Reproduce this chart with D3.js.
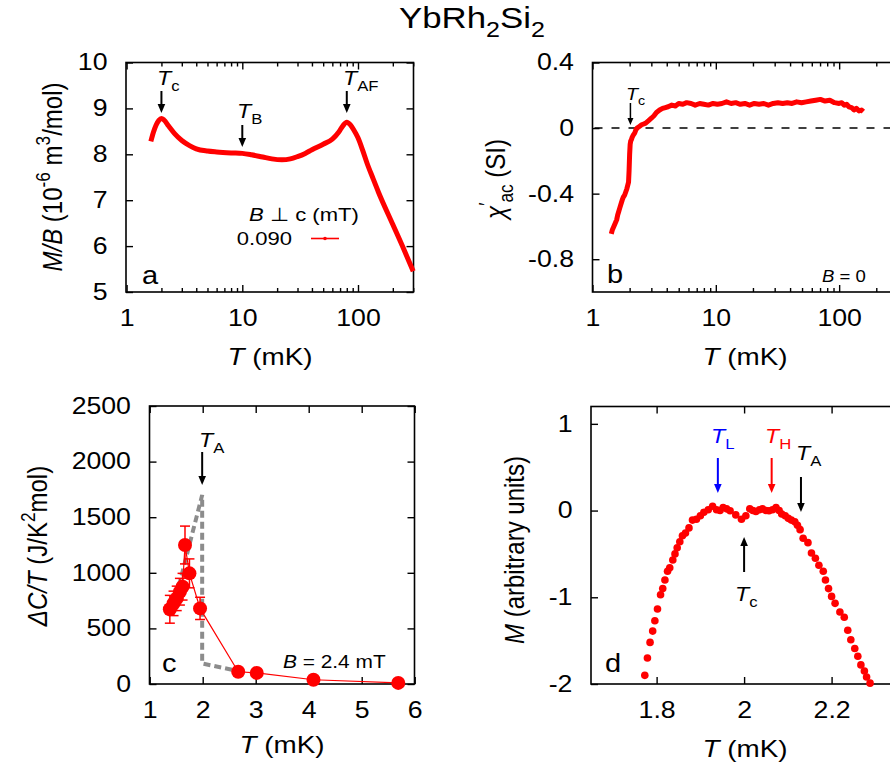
<!DOCTYPE html>
<html>
<head>
<meta charset="utf-8">
<style>
  body { margin: 0; background: #fff; }
  svg { font-family: 'Liberation Sans', Arial, sans-serif; display: block; }
</style>
</head>
<body>
<svg width="890" height="769"></svg>
<script src="https://d3js.org/d3.v7.min.js"></script>
<script>
// ---- panel a : M/B vs T (log), B perp c = 0.090 mT
const aCurve = [[1.62,8.28],[1.7,8.47],[1.8,8.64],[1.9,8.74],[2.0,8.78],[2.1,8.75],[2.3,8.62],[2.6,8.45],
  [3.0,8.3],[3.5,8.19],[4.0,8.12],[5,8.07],[6,8.05],[8,8.03],[10,8.02],[12,7.99],[15,7.94],[18,7.9],
  [22,7.88],[26,7.9],[30,7.95],[35,8.02],[40,8.1],[50,8.22],[60,8.33],[68,8.48],[74,8.62],[80,8.7],
  [86,8.64],[92,8.53],[100,8.36],[110,8.08],[120,7.8],[135,7.47],[150,7.18],[200,6.47],[250,5.92],[300,5.45]];
const aLegendField = "0.090";
// ---- panel b : chi'_ac vs T (log), B = 0
const bCurve = [[1.42,-0.645],[1.45,-0.62],[1.48,-0.605],[1.51,-0.59],[1.54,-0.575],[1.57,-0.56],[1.6,-0.53],
  [1.63,-0.51],[1.66,-0.49],[1.7,-0.465],[1.74,-0.44],[1.78,-0.42],[1.82,-0.41],[1.86,-0.39],[1.9,-0.37],
  [1.93,-0.35],[1.96,-0.33],[1.98,-0.26],[2.0,-0.16],[2.02,-0.1],[2.04,-0.08],[2.07,-0.07],[2.1,-0.055],
  [2.15,-0.04],[2.2,-0.03],[2.25,-0.01],[2.3,0.0],[2.4,0.01],[2.5,0.02],[2.6,0.025],[2.7,0.03],[2.85,0.045],
  [3.0,0.06],[3.15,0.075],[3.3,0.095],[3.5,0.11],[3.7,0.12],[3.9,0.125],[4.1,0.13],[4.4,0.14],[4.7,0.135],
  [5.0,0.15],[5.4,0.145],[5.8,0.155],[6.3,0.15],[6.8,0.14],[7.4,0.15],[8.0,0.145],[8.7,0.14],[9.5,0.15],
  [10.3,0.145],[11.2,0.15],[12.2,0.16],[13.3,0.15],[14.5,0.155],[15.8,0.145],[17.2,0.15],[18.8,0.14],
  [20.5,0.15],[22.4,0.145],[24.5,0.15],[26.7,0.14],[29.2,0.15],[31.9,0.155],[34.8,0.15],[38,0.155],
  [41.5,0.15],[45.3,0.16],[49.5,0.155],[54,0.16],[59,0.165],[64.5,0.17],[70.4,0.175],[76.9,0.165],
  [84,0.17],[91.7,0.155],[100,0.15],[105,0.155],[110,0.14],[115,0.145],[120,0.13],[126,0.125],
  [132,0.11],[138,0.12],[145,0.105],[152,0.11],[157,0.1]];
// ---- panel c : Delta C / T vs T, B = 2.4 mT
const cT   = [1.38, 1.45, 1.51, 1.57, 1.62, 1.666, 1.75, 1.95, 2.67, 3.02, 4.09, 5.69];
const cDC  = [672, 725, 770, 830, 875, 1250, 995, 680, 110, 100, 38, 10];
const cErr = [125, 110, 110, 120, 120, 170, 130, 100, 0, 0, 0, 0];
const cGuide = [[1.55,880],[1.99,1700],[1.99,185],[2.58,125]];
// ---- panel d : M vs T
const dT = [1.773,1.779,1.785,1.791,1.796,1.802,1.809,1.814,1.819,1.825,1.830,1.837,1.842,1.847,1.853,1.859,
  1.866,1.874,1.882,1.891,1.900,1.908,1.918,1.928,1.937,1.945,1.952,1.960,1.968,1.981,1.994,2.004,2.013,2.020,
  2.027,2.035,2.042,2.050,2.057,2.065,2.073,2.080,2.086,2.094,2.101,2.108,2.116,2.122,2.128,2.135,2.146,2.154,
  2.163,2.171,2.181,2.186,2.193,2.2,2.208,2.219,2.229,2.237,2.244,2.253,2.260,2.267,2.275,2.28,2.288];
const dM = [-1.90,-1.70,-1.52,-1.39,-1.27,-1.135,-0.97,-0.90,-0.80,-0.70,-0.66,-0.57,-0.50,-0.43,-0.36,-0.29,
  -0.26,-0.20,-0.11,-0.10,-0.06,-0.02,0.01,0.05,0.01,0.0,0.035,0.02,-0.003,-0.05,-0.10,-0.06,0.02,0.0,
  -0.01,0.01,0.02,0.0,-0.003,0.01,0.035,0.0,-0.04,-0.06,-0.09,-0.11,-0.13,-0.17,-0.22,-0.32,-0.37,-0.49,
  -0.55,-0.63,-0.70,-0.80,-0.90,-0.99,-1.07,-1.17,-1.23,-1.38,-1.49,-1.59,-1.68,-1.78,-1.85,-1.92,-1.99];

// tick values
const logMajor = [1, 10, 100];
const logMinor = [2,3,4,5,6,7,8,9,20,30,40,50,60,70,80,90,200,300];
const aYTicks = [5,6,7,8,9,10];
const bYTicks = [-0.8,-0.4,0,0.4];
const cXTicks = [1,2,3,4,5,6];
const cYTicks = [0,500,1000,1500,2000,2500];
const dXTicks = [1.8,2,2.2];
const dYTicks = [-2,-1,0,1];

const RED = "#ff0000", SX = 1.16;
const svg = d3.select("svg");

// text with italic / sub / sup pieces, slightly stretched like the original
function rich(x, y, parts, size, opt = {}) {
  const tf = `translate(${x},${y})` + (opt.rotate ? ` rotate(${opt.rotate}) scale(1,${SX})` : ` scale(${SX},1)`);
  const t = svg.append("text").attr("transform", tf).attr("font-size", size)
    .attr("text-anchor", opt.anchor || "start").attr("fill", opt.color || "#000");
  let shift = 0;
  parts.forEach(p => {
    const [s, k] = typeof p === "string" ? [p, ""] : p;
    const ts = t.append("tspan").text(s);
    let target = 0, fs = size;
    if (k.includes("b")) { target = size * 0.3; fs = size * 0.72; }
    if (k.includes("p")) { target = -size * 0.42; fs = size * 0.72; }
    ts.attr("dy", target - shift);
    shift = target;
    if (fs !== size) ts.attr("font-size", fs);
    if (k.includes("i")) ts.attr("font-style", "italic");
  });
  return t;
}

function arrow(x, yTail, yTip, color = "#000", small = false) {
  const dir = Math.sign(yTip - yTail), hl = small ? 7 : 9, hw = small ? 3 : 3.8;
  svg.append("line").attr("x1", x).attr("x2", x).attr("y1", yTail).attr("y2", yTip - dir * hl)
    .attr("stroke", color).attr("stroke-width", small ? 1.5 : 2);
  svg.append("path").attr("d", `M${x - hw},${yTip - dir * hl}L${x + hw},${yTip - dir * hl}L${x},${yTip}Z`)
    .attr("fill", color);
}

function panel(x, y, box, o) {
  const [x0, x1, y0, y1] = box;
  const fmt = o.fmt || (d => String(d));
  const style = g => {
    g.select(".domain").remove();
    g.attr("font-size", 23).attr("font-family", null);
    g.selectAll("line").attr("stroke-width", 1.4);
    g.selectAll("text").attr("transform", `scale(${SX},1)`);
  };
  svg.append("g").attr("transform", `translate(0,${y1})`)
    .call(d3.axisBottom(x).tickValues(o.xTicks).tickFormat(o.xFmt || fmt).tickSizeInner(-7).tickSizeOuter(0).tickPadding(18)).call(style);
  svg.append("g").attr("transform", `translate(0,${y0})`)
    .call(d3.axisTop(x).tickValues(o.xTicks).tickFormat("").tickSizeInner(-7).tickSizeOuter(0)).call(style);
  if (o.xMinor) {
    svg.append("g").attr("transform", `translate(0,${y1})`)
      .call(d3.axisBottom(x).tickValues(o.xMinor).tickFormat("").tickSizeInner(-4).tickSizeOuter(0)).call(style);
    svg.append("g").attr("transform", `translate(0,${y0})`)
      .call(d3.axisTop(x).tickValues(o.xMinor).tickFormat("").tickSizeInner(-4).tickSizeOuter(0)).call(style);
  }
  svg.append("g").attr("transform", `translate(${x0},0)`)
    .call(d3.axisLeft(y).tickValues(o.yTicks).tickFormat(fmt).tickSizeInner(-7).tickSizeOuter(0).tickPadding(16)).call(style);
  svg.append("g").attr("transform", `translate(${x1},0)`)
    .call(d3.axisRight(y).tickValues(o.yTicks).tickFormat("").tickSizeInner(-7).tickSizeOuter(0)).call(style);
  svg.append("rect").attr("x", x0).attr("y", y0).attr("width", x1 - x0).attr("height", y1 - y0)
    .attr("fill", "none").attr("stroke", "#000").attr("stroke-width", 1.6);
}

// title
rich(399, 28, ["YbRh", ["2", "b"], "Si", ["2", "b"]], 30);

// ---------- panel a
const xa = d3.scaleLog().domain([1, 300]).range([126.6, 413.2]);
const ya = d3.scaleLinear().domain([5, 10]).range([292, 62.5]);
panel(xa, ya, [126, 413.5, 62.5, 292], { xTicks: logMajor, xMinor: logMinor, yTicks: aYTicks });
svg.append("path").datum(aCurve)
  .attr("d", d3.line().x(d => xa(d[0])).y(d => ya(d[1])).curve(d3.curveMonotoneX))
  .attr("fill", "none").attr("stroke", RED).attr("stroke-width", 5).attr("stroke-linejoin", "round");
arrow(xa(2.0), 91, 113); rich(157, 85, [["T", "i"], ["c", "b"]], 20);
arrow(xa(10), 125, 147); rich(237, 118, [["T", "i"], ["B", "b"]], 20);
arrow(xa(80), 91, 113); rich(343, 85, [["T", "i"], ["AF", "b"]], 20);
rich(249, 221, [["B", "i"], " \u22A5 c (mT)"], 19);
rich(292, 245, [aLegendField], 19, { anchor: "end" });
svg.append("line").attr("x1", 311).attr("x2", 339).attr("y1", 238.5).attr("y2", 238.5).attr("stroke", RED).attr("stroke-width", 1.6);
svg.append("circle").attr("cx", 325).attr("cy", 238.5).attr("r", 1.8).attr("fill", RED);
rich(142, 284, ["a"], 25);
rich(270, 365, [["T", "i"], " (mK)"], 24, { anchor: "middle" });
rich(62, 177, [["M/B", "i"], " (10", ["-6", "p"], " m", ["3", "p"], "/mol)"], 24, { rotate: -90, anchor: "middle" });

// ---------- panel b
const xb = d3.scaleLog().domain([1, 300]).range([592.5, 898]);
const yb = d3.scaleLinear().domain([-1, 0.4]).range([292, 62.5]);
panel(xb, yb, [592.5, 898, 62.5, 292], { xTicks: logMajor, xMinor: logMinor, yTicks: bYTicks });
svg.append("line").attr("x1", 592.5).attr("x2", 898).attr("y1", yb(0)).attr("y2", yb(0))
  .attr("stroke", "#000").attr("stroke-width", 1.6).attr("stroke-dasharray", "8,9").attr("stroke-dashoffset", -2);
svg.append("path").datum(bCurve)
  .attr("d", d3.line().x(d => xb(d[0])).y(d => yb(d[1])))
  .attr("fill", "none").attr("stroke", RED).attr("stroke-width", 5).attr("stroke-linejoin", "round");
arrow(xb(2.03), 103, 125, "#000", true); rich(626, 100, [["T", "i"], ["c", "b"]], 17);
rich(607, 283, ["b"], 25);
rich(822, 282, [["B", "i"], " = 0"], 16);
rich(745, 365, [["T", "i"], " (mK)"], 24, { anchor: "middle" });
rich(505, 179, [["\u03C7", "i"], ["\u2032", "p"], ["ac", "b"], " (SI)"], 24, { rotate: -90, anchor: "middle" });

// ---------- panel c
const xc = d3.scaleLinear().domain([1, 6]).range([149.7, 414.7]);
const yc = d3.scaleLinear().domain([0, 2500]).range([684, 406]);
panel(xc, yc, [149.5, 414.5, 406, 684], { xTicks: cXTicks, yTicks: cYTicks });
svg.append("path").datum(cGuide)
  .attr("d", d3.line().x(d => xc(d[0])).y(d => yc(d[1])))
  .attr("fill", "none").attr("stroke", "#8c8c8c").attr("stroke-width", 4).attr("stroke-dasharray", "7,4");
const cPts = d3.zip(cT, cDC, cErr);
svg.append("path").datum(cPts)
  .attr("d", d3.line().x(d => xc(d[0])).y(d => yc(d[1])))
  .attr("fill", "none").attr("stroke", RED).attr("stroke-width", 1.2);
const eb = svg.append("g").attr("stroke", RED).attr("stroke-width", 1.5);
cPts.filter(d => d[2] > 0).forEach(d => {
  const cx = xc(d[0]);
  eb.append("line").attr("x1", cx).attr("x2", cx).attr("y1", yc(d[1] - d[2])).attr("y2", yc(d[1] + d[2]));
  [d[1] - d[2], d[1] + d[2]].forEach(v =>
    eb.append("line").attr("x1", cx - 5).attr("x2", cx + 5).attr("y1", yc(v)).attr("y2", yc(v)));
});
svg.append("g").selectAll("circle").data(cPts).join("circle")
  .attr("cx", d => xc(d[0])).attr("cy", d => yc(d[1])).attr("r", 7).attr("fill", RED);
arrow(xc(1.99), 452, 485); rich(199, 447, [["T", "i"], ["A", "b"]], 20);
rich(162, 672, ["c"], 25);
rich(283, 668, [["B", "i"], " = 2.4 mT"], 18);
rich(282, 753, [["T", "i"], " (mK)"], 24, { anchor: "middle" });
rich(47, 546, [["\u0394C/T", "i"], " (J/K", ["2", "p"], "mol)"], 24, { rotate: -90, anchor: "middle" });

// ---------- panel d
const xd = d3.scaleLinear().domain([1.65, 2.35]).range([591, 897.2]);
const yd = d3.scaleLinear().domain([-2, 1.2]).range([684, 406.5]);
panel(xd, yd, [591, 897.2, 406.5, 684], { xTicks: dXTicks, yTicks: dYTicks });
svg.append("g").selectAll("circle").data(d3.zip(dT, dM)).join("circle")
  .attr("cx", d => xd(d[0])).attr("cy", d => yd(d[1])).attr("r", 3.8).attr("fill", RED);
arrow(xd(1.94), 458, 493, "#0000ff"); rich(711, 443, [["T", "i"], ["L", "b"]], 20, { color: "#0000ff" });
arrow(xd(2.063), 458, 493, RED); rich(765, 443, [["T", "i"], ["H", "b"]], 20, { color: RED });
arrow(xd(2.13), 477, 512); rich(796, 460, [["T", "i"], ["A", "b"]], 20);
arrow(xd(2.0), 572, 537); rich(735, 601, [["T", "i"], ["c", "b"]], 20);
rich(605, 672, ["d"], 25);
rich(745, 757, [["T", "i"], " (mK)"], 24, { anchor: "middle" });
rich(524, 550, [["M", "i"], " (arbitrary units)"], 24, { rotate: -90, anchor: "middle" });
</script>
</body>
</html>
